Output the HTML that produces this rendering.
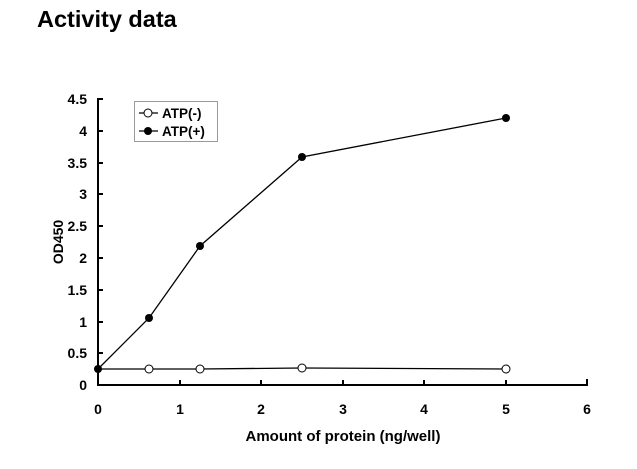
<!DOCTYPE html><html><head><style>body{margin:0;background:#fff}</style></head><body>
<svg width="637" height="464" xmlns="http://www.w3.org/2000/svg" font-family="Liberation Sans, Arial, sans-serif" font-weight="bold">
<text x="37" y="27" font-size="23.5">Activity data</text>
<g stroke="#000" stroke-width="2" fill="none">
<line x1="98" y1="98" x2="98" y2="386"/>
<line x1="97" y1="385" x2="588" y2="385"/>
<path d="M98 99h5M98 131h5M98 163h5M98 194h5M98 226h5M98 258h5M98 290h5M98 322h5M98 353h5"/>
<path d="M180 385v-5M261 385v-5M343 385v-5M424 385v-5M506 385v-5M587 385v-6"/>
</g>
<g font-size="14" text-anchor="end">
<text x="87" y="104">4.5</text><text x="87" y="136">4</text><text x="87" y="168">3.5</text><text x="87" y="199">3</text><text x="87" y="231">2.5</text><text x="87" y="263">2</text><text x="87" y="295">1.5</text><text x="87" y="327">1</text><text x="87" y="358">0.5</text><text x="87" y="390">0</text>
</g>
<g font-size="14" text-anchor="middle">
<text x="98" y="414">0</text><text x="180" y="414">1</text><text x="261" y="414">2</text><text x="343" y="414">3</text><text x="424" y="414">4</text><text x="506" y="414">5</text><text x="587" y="414">6</text>
<text x="343" y="441" font-size="15">Amount of protein (ng/well)</text>
<text transform="translate(63,242) rotate(-90)" font-size="14">OD450</text>
</g>
<polyline points="98,369 149,369 200,369 302,368 506,369" stroke="#000" stroke-width="1.3" fill="none"/>
<polyline points="98,369 149,318 200,246 302,157 506,118" stroke="#000" stroke-width="1.3" fill="none"/>
<g fill="#fff" stroke="#000" stroke-width="1">
<circle cx="149" cy="369" r="4"/><circle cx="200" cy="369" r="4"/><circle cx="302" cy="368" r="4"/><circle cx="506" cy="369" r="4"/>
</g>
<g fill="#000">
<circle cx="98" cy="369" r="4"/><circle cx="149" cy="318" r="4"/><circle cx="200" cy="246" r="4"/><circle cx="302" cy="157" r="4"/><circle cx="506" cy="118" r="4"/>
</g>
<rect x="134.5" y="101.5" width="83" height="40" fill="#fff" stroke="#999" stroke-width="1"/>
<line x1="139" y1="113" x2="158" y2="113" stroke="#000" stroke-width="1.3"/>
<circle cx="148" cy="113" r="4" fill="#fff" stroke="#000"/>
<line x1="139" y1="131" x2="158" y2="131" stroke="#000" stroke-width="1.3"/>
<circle cx="148" cy="131" r="4" fill="#000"/>
<text x="162" y="118" font-size="13.5">ATP(-)</text>
<text x="162" y="136" font-size="13.5">ATP(+)</text>
</svg>
</body></html>
